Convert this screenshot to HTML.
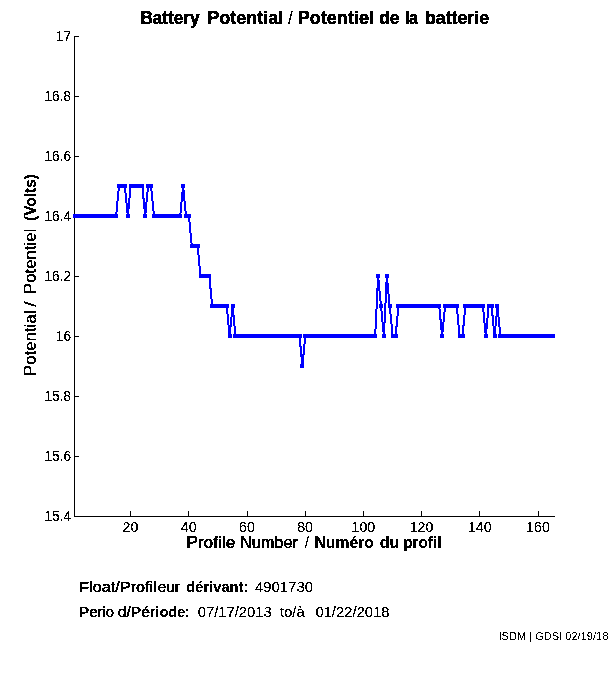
<!DOCTYPE html>
<html><head><meta charset="utf-8"><title>Battery Potential</title>
<style>
html,body{margin:0;padding:0;background:#fff;}
body{width:611px;height:675px;overflow:hidden;font-family:"Liberation Sans",sans-serif;}
svg{display:block;will-change:transform;}
text{font-family:"Liberation Sans",sans-serif;fill:#000;}
.tk text{font-size:14.67px;}
.b{font-weight:bold;}
.sb{stroke:#000;stroke-width:0.28px;}
.sb2{stroke:#000;stroke-width:0.3px;}
.xb{stroke:#000;stroke-width:0.3px;}
</style></head><body>
<svg width="611" height="675" viewBox="0 0 611 675">
<defs>
<filter id="bin" x="0" y="0" width="611" height="675" filterUnits="userSpaceOnUse" color-interpolation-filters="sRGB"><feComponentTransfer><feFuncA type="discrete" tableValues="0 0 1 1 1"/></feComponentTransfer></filter>
<filter id="bin2" x="0" y="0" width="611" height="675" filterUnits="userSpaceOnUse" color-interpolation-filters="sRGB"><feComponentTransfer><feFuncA type="discrete" tableValues="0 1"/></feComponentTransfer></filter>
</defs>
<rect width="611" height="675" fill="#fff"/>
<g shape-rendering="crispEdges" fill="#000">
<rect x="74" y="36" width="1" height="481"/>
<rect x="74" y="516" width="481" height="1"/>
<rect x="130" y="511" width="1" height="5"/><rect x="188" y="511" width="1" height="5"/><rect x="247" y="511" width="1" height="5"/><rect x="305" y="511" width="1" height="5"/><rect x="363" y="511" width="1" height="5"/><rect x="421" y="511" width="1" height="5"/><rect x="479" y="511" width="1" height="5"/><rect x="538" y="511" width="1" height="5"/><rect x="75" y="36" width="4" height="1"/><rect x="75" y="96" width="4" height="1"/><rect x="75" y="156" width="4" height="1"/><rect x="75" y="216" width="4" height="1"/><rect x="75" y="276" width="4" height="1"/><rect x="75" y="336" width="4" height="1"/><rect x="75" y="396" width="4" height="1"/><rect x="75" y="456" width="4" height="1"/><rect x="75" y="516" width="4" height="1"/>
</g>
<g shape-rendering="crispEdges">
<polyline points="75.4,216.0 78.3,216.0 81.2,216.0 84.1,216.0 87.0,216.0 89.9,216.0 92.8,216.0 95.7,216.0 98.6,216.0 101.6,216.0 104.5,216.0 107.4,216.0 110.3,216.0 113.2,216.0 116.1,216.0 119.0,186.0 121.9,186.0 124.8,186.0 127.8,216.0 130.7,186.0 133.6,186.0 136.5,186.0 139.4,186.0 142.3,186.0 145.2,216.0 148.1,186.0 151.0,186.0 154.0,216.0 156.9,216.0 159.8,216.0 162.7,216.0 165.6,216.0 168.5,216.0 171.4,216.0 174.3,216.0 177.2,216.0 180.2,216.0 183.1,186.0 186.0,216.0 188.9,216.0 191.8,246.0 194.7,246.0 197.6,246.0 200.5,276.0 203.4,276.0 206.4,276.0 209.3,276.0 212.2,306.0 215.1,306.0 218.0,306.0 220.9,306.0 223.8,306.0 226.7,306.0 229.6,336.0 232.6,306.0 235.5,336.0 238.4,336.0 241.3,336.0 244.2,336.0 247.1,336.0 250.0,336.0 252.9,336.0 255.8,336.0 258.8,336.0 261.7,336.0 264.6,336.0 267.5,336.0 270.4,336.0 273.3,336.0 276.2,336.0 279.1,336.0 282.0,336.0 285.0,336.0 287.9,336.0 290.8,336.0 293.7,336.0 296.6,336.0 299.5,336.0 302.4,366.0 305.3,336.0 308.2,336.0 311.2,336.0 314.1,336.0 317.0,336.0 319.9,336.0 322.8,336.0 325.7,336.0 328.6,336.0 331.5,336.0 334.4,336.0 337.4,336.0 340.3,336.0 343.2,336.0 346.1,336.0 349.0,336.0 351.9,336.0 354.8,336.0 357.7,336.0 360.6,336.0 363.6,336.0 366.5,336.0 369.4,336.0 372.3,336.0 375.2,336.0 378.1,276.0 381.0,306.0 383.9,336.0 386.8,276.0 389.7,306.0 392.7,336.0 395.6,336.0 398.5,306.0 401.4,306.0 404.3,306.0 407.2,306.0 410.1,306.0 413.0,306.0 415.9,306.0 418.9,306.0 421.8,306.0 424.7,306.0 427.6,306.0 430.5,306.0 433.4,306.0 436.3,306.0 439.2,306.0 442.1,336.0 445.1,306.0 448.0,306.0 450.9,306.0 453.8,306.0 456.7,306.0 459.6,336.0 462.5,336.0 465.4,306.0 468.3,306.0 471.3,306.0 474.2,306.0 477.1,306.0 480.0,306.0 482.9,306.0 485.8,336.0 488.7,306.0 491.6,306.0 494.5,336.0 497.5,306.0 500.4,336.0 503.3,336.0 506.2,336.0 509.1,336.0 512.0,336.0 514.9,336.0 517.8,336.0 520.7,336.0 523.7,336.0 526.6,336.0 529.5,336.0 532.4,336.0 535.3,336.0 538.2,336.0 541.1,336.0 544.0,336.0 546.9,336.0 549.9,336.0 552.8,336.0" fill="none" stroke="#0000ff" stroke-width="2" stroke-linejoin="miter"/>
<g fill="#0000ff"><rect x="73" y="214" width="4" height="4"/><rect x="76" y="214" width="4" height="4"/><rect x="79" y="214" width="4" height="4"/><rect x="82" y="214" width="4" height="4"/><rect x="85" y="214" width="4" height="4"/><rect x="88" y="214" width="4" height="4"/><rect x="91" y="214" width="4" height="4"/><rect x="94" y="214" width="4" height="4"/><rect x="97" y="214" width="4" height="4"/><rect x="100" y="214" width="4" height="4"/><rect x="102" y="214" width="4" height="4"/><rect x="105" y="214" width="4" height="4"/><rect x="108" y="214" width="4" height="4"/><rect x="111" y="214" width="4" height="4"/><rect x="114" y="214" width="4" height="4"/><rect x="117" y="184" width="4" height="4"/><rect x="120" y="184" width="4" height="4"/><rect x="123" y="184" width="4" height="4"/><rect x="126" y="214" width="4" height="4"/><rect x="129" y="184" width="4" height="4"/><rect x="132" y="184" width="4" height="4"/><rect x="134" y="184" width="4" height="4"/><rect x="137" y="184" width="4" height="4"/><rect x="140" y="184" width="4" height="4"/><rect x="143" y="214" width="4" height="4"/><rect x="146" y="184" width="4" height="4"/><rect x="149" y="184" width="4" height="4"/><rect x="152" y="214" width="4" height="4"/><rect x="155" y="214" width="4" height="4"/><rect x="158" y="214" width="4" height="4"/><rect x="161" y="214" width="4" height="4"/><rect x="164" y="214" width="4" height="4"/><rect x="167" y="214" width="4" height="4"/><rect x="169" y="214" width="4" height="4"/><rect x="172" y="214" width="4" height="4"/><rect x="175" y="214" width="4" height="4"/><rect x="178" y="214" width="4" height="4"/><rect x="181" y="184" width="4" height="4"/><rect x="184" y="214" width="4" height="4"/><rect x="187" y="214" width="4" height="4"/><rect x="190" y="244" width="4" height="4"/><rect x="193" y="244" width="4" height="4"/><rect x="196" y="244" width="4" height="4"/><rect x="199" y="274" width="4" height="4"/><rect x="201" y="274" width="4" height="4"/><rect x="204" y="274" width="4" height="4"/><rect x="207" y="274" width="4" height="4"/><rect x="210" y="304" width="4" height="4"/><rect x="213" y="304" width="4" height="4"/><rect x="216" y="304" width="4" height="4"/><rect x="219" y="304" width="4" height="4"/><rect x="222" y="304" width="4" height="4"/><rect x="225" y="304" width="4" height="4"/><rect x="228" y="334" width="4" height="4"/><rect x="231" y="304" width="4" height="4"/><rect x="233" y="334" width="4" height="4"/><rect x="236" y="334" width="4" height="4"/><rect x="239" y="334" width="4" height="4"/><rect x="242" y="334" width="4" height="4"/><rect x="245" y="334" width="4" height="4"/><rect x="248" y="334" width="4" height="4"/><rect x="251" y="334" width="4" height="4"/><rect x="254" y="334" width="4" height="4"/><rect x="257" y="334" width="4" height="4"/><rect x="260" y="334" width="4" height="4"/><rect x="263" y="334" width="4" height="4"/><rect x="265" y="334" width="4" height="4"/><rect x="268" y="334" width="4" height="4"/><rect x="271" y="334" width="4" height="4"/><rect x="274" y="334" width="4" height="4"/><rect x="277" y="334" width="4" height="4"/><rect x="280" y="334" width="4" height="4"/><rect x="283" y="334" width="4" height="4"/><rect x="286" y="334" width="4" height="4"/><rect x="289" y="334" width="4" height="4"/><rect x="292" y="334" width="4" height="4"/><rect x="295" y="334" width="4" height="4"/><rect x="298" y="334" width="4" height="4"/><rect x="300" y="364" width="4" height="4"/><rect x="303" y="334" width="4" height="4"/><rect x="306" y="334" width="4" height="4"/><rect x="309" y="334" width="4" height="4"/><rect x="312" y="334" width="4" height="4"/><rect x="315" y="334" width="4" height="4"/><rect x="318" y="334" width="4" height="4"/><rect x="321" y="334" width="4" height="4"/><rect x="324" y="334" width="4" height="4"/><rect x="327" y="334" width="4" height="4"/><rect x="330" y="334" width="4" height="4"/><rect x="332" y="334" width="4" height="4"/><rect x="335" y="334" width="4" height="4"/><rect x="338" y="334" width="4" height="4"/><rect x="341" y="334" width="4" height="4"/><rect x="344" y="334" width="4" height="4"/><rect x="347" y="334" width="4" height="4"/><rect x="350" y="334" width="4" height="4"/><rect x="353" y="334" width="4" height="4"/><rect x="356" y="334" width="4" height="4"/><rect x="359" y="334" width="4" height="4"/><rect x="362" y="334" width="4" height="4"/><rect x="364" y="334" width="4" height="4"/><rect x="367" y="334" width="4" height="4"/><rect x="370" y="334" width="4" height="4"/><rect x="373" y="334" width="4" height="4"/><rect x="376" y="274" width="4" height="4"/><rect x="379" y="304" width="4" height="4"/><rect x="382" y="334" width="4" height="4"/><rect x="385" y="274" width="4" height="4"/><rect x="388" y="304" width="4" height="4"/><rect x="391" y="334" width="4" height="4"/><rect x="394" y="334" width="4" height="4"/><rect x="396" y="304" width="4" height="4"/><rect x="399" y="304" width="4" height="4"/><rect x="402" y="304" width="4" height="4"/><rect x="405" y="304" width="4" height="4"/><rect x="408" y="304" width="4" height="4"/><rect x="411" y="304" width="4" height="4"/><rect x="414" y="304" width="4" height="4"/><rect x="417" y="304" width="4" height="4"/><rect x="420" y="304" width="4" height="4"/><rect x="423" y="304" width="4" height="4"/><rect x="426" y="304" width="4" height="4"/><rect x="429" y="304" width="4" height="4"/><rect x="431" y="304" width="4" height="4"/><rect x="434" y="304" width="4" height="4"/><rect x="437" y="304" width="4" height="4"/><rect x="440" y="334" width="4" height="4"/><rect x="443" y="304" width="4" height="4"/><rect x="446" y="304" width="4" height="4"/><rect x="449" y="304" width="4" height="4"/><rect x="452" y="304" width="4" height="4"/><rect x="455" y="304" width="4" height="4"/><rect x="458" y="334" width="4" height="4"/><rect x="461" y="334" width="4" height="4"/><rect x="463" y="304" width="4" height="4"/><rect x="466" y="304" width="4" height="4"/><rect x="469" y="304" width="4" height="4"/><rect x="472" y="304" width="4" height="4"/><rect x="475" y="304" width="4" height="4"/><rect x="478" y="304" width="4" height="4"/><rect x="481" y="304" width="4" height="4"/><rect x="484" y="334" width="4" height="4"/><rect x="487" y="304" width="4" height="4"/><rect x="490" y="304" width="4" height="4"/><rect x="493" y="334" width="4" height="4"/><rect x="495" y="304" width="4" height="4"/><rect x="498" y="334" width="4" height="4"/><rect x="501" y="334" width="4" height="4"/><rect x="504" y="334" width="4" height="4"/><rect x="507" y="334" width="4" height="4"/><rect x="510" y="334" width="4" height="4"/><rect x="513" y="334" width="4" height="4"/><rect x="516" y="334" width="4" height="4"/><rect x="519" y="334" width="4" height="4"/><rect x="522" y="334" width="4" height="4"/><rect x="525" y="334" width="4" height="4"/><rect x="527" y="334" width="4" height="4"/><rect x="530" y="334" width="4" height="4"/><rect x="533" y="334" width="4" height="4"/><rect x="536" y="334" width="4" height="4"/><rect x="539" y="334" width="4" height="4"/><rect x="542" y="334" width="4" height="4"/><rect x="545" y="334" width="4" height="4"/><rect x="548" y="334" width="4" height="4"/><rect x="551" y="334" width="4" height="4"/></g>
</g>
<g filter="url(#bin)">
<g class="tk"><text x="122.6" y="532" textLength="15.8" lengthAdjust="spacingAndGlyphs">20</text><text x="180.8" y="532" textLength="15.8" lengthAdjust="spacingAndGlyphs">40</text><text x="239.0" y="532" textLength="15.8" lengthAdjust="spacingAndGlyphs">60</text><text x="297.2" y="532" textLength="15.8" lengthAdjust="spacingAndGlyphs">80</text><text x="351.5" y="532" textLength="23.7" lengthAdjust="spacingAndGlyphs">100</text><text x="409.7" y="532" textLength="23.7" lengthAdjust="spacingAndGlyphs">120</text><text x="467.9" y="532" textLength="23.7" lengthAdjust="spacingAndGlyphs">140</text><text x="526.1" y="532" textLength="23.7" lengthAdjust="spacingAndGlyphs">160</text><text x="55.8" y="41.4" textLength="15.2" lengthAdjust="spacingAndGlyphs">17</text><text x="44.5" y="101.4" textLength="26.5" lengthAdjust="spacingAndGlyphs">16.8</text><text x="44.5" y="161.4" textLength="26.5" lengthAdjust="spacingAndGlyphs">16.6</text><text x="44.5" y="221.4" textLength="26.5" lengthAdjust="spacingAndGlyphs">16.4</text><text x="44.5" y="281.4" textLength="26.5" lengthAdjust="spacingAndGlyphs">16.2</text><text x="55.8" y="341.4" textLength="15.2" lengthAdjust="spacingAndGlyphs">16</text><text x="44.5" y="401.4" textLength="26.5" lengthAdjust="spacingAndGlyphs">15.8</text><text x="44.5" y="461.4" textLength="26.5" lengthAdjust="spacingAndGlyphs">15.6</text><text x="44.5" y="521.4" textLength="26.5" lengthAdjust="spacingAndGlyphs">15.4</text></g>
<text class="b xb" x="140.46" y="23.5" font-size="18.2px" textLength="59.01" lengthAdjust="spacingAndGlyphs">Battery</text>
<text class="b xb" x="207.21" y="23.5" font-size="18.2px" textLength="75.93" lengthAdjust="spacingAndGlyphs">Potential</text>
<text x="287.90" y="23.5" font-size="18.2px" textLength="4.80" lengthAdjust="spacingAndGlyphs">/</text>
<text class="b xb" x="297.81" y="23.5" font-size="18.2px" textLength="76.14" lengthAdjust="spacingAndGlyphs">Potentiel</text>
<text class="b xb" x="379.20" y="23.5" font-size="18.2px" textLength="20.31" lengthAdjust="spacingAndGlyphs">de</text>
<text class="b xb" x="405.05" y="23.5" font-size="18.2px" textLength="12.90" lengthAdjust="spacingAndGlyphs">la</text>
<text class="b xb" x="424.92" y="23.5" font-size="18.2px" textLength="64.19" lengthAdjust="spacingAndGlyphs">batterie</text>
<text class="sb2" x="186.24" y="548.3" font-size="16.4px" textLength="49.08" lengthAdjust="spacingAndGlyphs">Profile</text>
<text class="sb2" x="239.91" y="548.3" font-size="16.4px" textLength="57.96" lengthAdjust="spacingAndGlyphs">Number</text>
<text x="304.70" y="548.3" font-size="16.4px" textLength="4.28" lengthAdjust="spacingAndGlyphs">/</text>
<text class="b" x="314.44" y="548.3" font-size="16.4px" textLength="59.47" lengthAdjust="spacingAndGlyphs">Numéro</text>
<text class="b" x="379.70" y="548.3" font-size="16.4px" textLength="19.59" lengthAdjust="spacingAndGlyphs">du</text>
<text class="b" x="403.16" y="548.3" font-size="16.4px" textLength="38.35" lengthAdjust="spacingAndGlyphs">profil</text>
<text class="sb" x="79.23" y="591.9" font-size="15.2px" textLength="77.57" lengthAdjust="spacingAndGlyphs">Float/Profil</text>
<text class="sb" x="157.70" y="591.9" font-size="15.2px" textLength="22.26" lengthAdjust="spacingAndGlyphs">eur</text>
<text class="b" x="186.20" y="591.9" font-size="15.2px" textLength="62.23" lengthAdjust="spacingAndGlyphs">dérivant:</text>
<text x="255.00" y="592.1" font-size="15.2px" textLength="57.94" lengthAdjust="spacingAndGlyphs">4901730</text>
<text class="sb" x="79.32" y="616.9" font-size="15.2px" textLength="34.72" lengthAdjust="spacingAndGlyphs">Perio</text>
<text class="sb" x="117.70" y="616.9" font-size="15.2px" textLength="40.99" lengthAdjust="spacingAndGlyphs">d/Péri</text>
<text class="b" x="159.80" y="616.9" font-size="15.2px" textLength="29.99" lengthAdjust="spacingAndGlyphs">ode:</text>
<text x="197.80" y="617.1" font-size="15.2px" textLength="73.83" lengthAdjust="spacingAndGlyphs">07/17/2013</text>
<text x="280.10" y="617.1" font-size="15.2px" textLength="24.47" lengthAdjust="spacingAndGlyphs">to/à</text>
<text x="315.40" y="617.1" font-size="15.2px" textLength="74.14" lengthAdjust="spacingAndGlyphs">01/22/2018</text>
<g transform="translate(35.8,375.6) rotate(-90)">
<text stroke="#000" stroke-width="0.15" x="-0.53" y="0" font-size="16.4px" textLength="65.69" lengthAdjust="spacingAndGlyphs">Potential</text>
<text stroke="#000" stroke-width="0.15" x="68.90" y="0" font-size="16.4px" textLength="5.19" lengthAdjust="spacingAndGlyphs">/</text>
<text stroke="#000" stroke-width="0.15" x="81.47" y="0" font-size="16.4px" textLength="65.49" lengthAdjust="spacingAndGlyphs">Potentiel</text>
<text class="b" x="154.80" y="0" font-size="16.4px" textLength="46.53" lengthAdjust="spacingAndGlyphs">(Volts)</text>
</g>
</g>
<g filter="url(#bin2)"><text x="498.49" y="639.8" font-size="11px" textLength="109.82" lengthAdjust="spacingAndGlyphs">ISDM | GDSI 02/19/18</text></g>
</svg>
</body></html>
